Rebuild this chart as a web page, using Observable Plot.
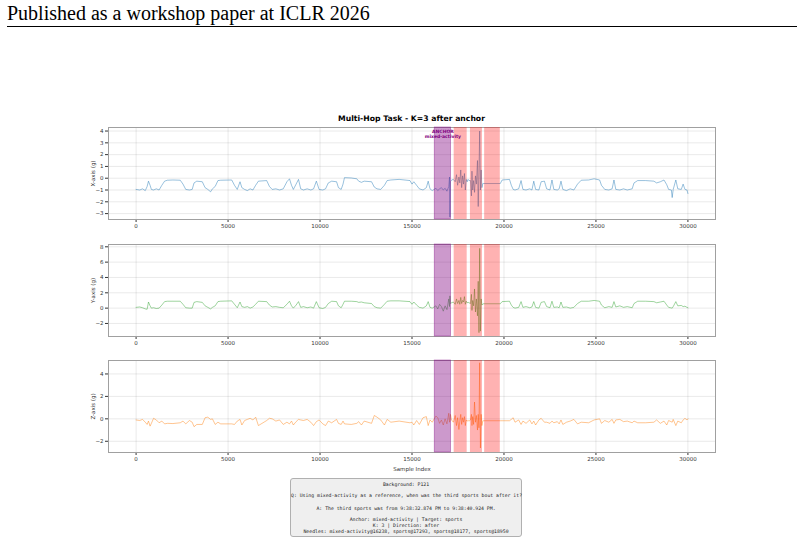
<!DOCTYPE html>
<html><head><meta charset="utf-8">
<script src="https://cdn.jsdelivr.net/npm/d3@7"></script>
<script src="https://cdn.jsdelivr.net/npm/@observablehq/plot@0.6"></script>
<style>
body{margin:0;width:804px;height:544px;position:relative;background:#fff;overflow:hidden}
#hdr{position:absolute;left:7px;top:2px;font-family:"Liberation Serif","Times New Roman",serif;font-size:20px;color:#000;white-space:nowrap}
#rule{position:absolute;left:7px;top:26px;width:790px;height:0;border-top:1px solid #000}
#title{position:absolute;left:108px;width:607px;top:114px;text-align:center;font-family:"DejaVu Sans";font-weight:bold;font-size:7.7px;color:#000;white-space:nowrap}
.panel{position:absolute;left:0}
#box{position:absolute;left:290px;top:478px;width:232px;height:59px;box-sizing:border-box;background:#efefef;border:1px solid #b0b0b0;border-radius:3px;font-family:"DejaVu Sans Mono";font-size:4.8px;text-align:center;color:#222;white-space:nowrap}
#box div{position:absolute;left:0;right:0;line-height:6px}
</style></head><body>
<div id="hdr">Published as a workshop paper at ICLR 2026</div>
<div id="rule"></div>
<div id="title">Multi-Hop Task - K=3 after anchor</div>
<div id="p1" class="panel"></div>
<div id="p2" class="panel"></div>
<div id="p3" class="panel"></div>
<div id="box"></div>
<script>
// ---- data (sample index, acceleration in g) ----
const xSeries = [
[0,-0.95],[200,-1.0],[350,-0.9],[500,-1.05],[600,-0.7],[673,-0.25],[760,-0.6],[832,-0.95],[950,-1.0],[1100,-0.9],
[1250,-1.0],[1400,-0.6],[1550,-0.25],[1700,-0.17],[2000,-0.15],[2400,-0.17],[2550,-0.5],[2700,-0.95],[2900,-1.0],[3050,-0.95],
[3150,-0.4],[3300,-0.25],[3600,-0.3],[3750,-0.8],[3900,-0.95],[4050,-1.15],[4150,-0.9],[4300,-0.7],[4450,-0.2],[4600,-0.17],
[5200,-0.15],[5350,-0.6],[5500,-0.95],[5650,-0.3],[5750,-0.8],[5900,-0.95],[6050,-1.05],[6200,-0.9],[6350,-1.0],[6500,-0.6],
[6650,-0.25],[7100,-0.2],[7250,-0.7],[7400,-0.95],[7600,-0.9],[7800,-1.0],[8000,-0.9],[8200,-0.3],[8340,-0.05],[8450,-0.6],
[8550,-0.95],[8700,-0.5],[8830,-0.1],[8950,-0.9],[9100,-1.0],[9300,-0.9],[9500,-1.0],[9650,-0.9],[9800,-0.25],[9950,-0.95],
[10150,-1.0],[10300,-0.9],[10450,-0.4],[10633,-0.25],[10900,-0.3],[11000,-0.8],[11150,-0.95],[11250,-0.5],[11330,0.05],[11700,0.02],
[12000,-0.05],[12100,-0.25],[12250,-0.35],[12400,-0.25],[12800,-0.3],[12950,-0.75],[13100,-0.9],[13300,-0.95],[13500,-0.6],[13650,-0.2],
[13850,-0.15],[14300,-0.1],[14890,-0.2],[15000,-0.5],[15100,-0.3],[15250,-0.6],[15400,-0.9],[15600,-1.0],[15780,-0.8],[15880,-0.25],
[15979,-0.9],[16100,-1.05],[16300,-0.85],[16400,-1.05],[16500,-0.9],[16600,-0.8],[16700,-1.0],[16800,-0.85],[16900,-1.1],[17000,-0.7],
[17040,0.1],[17060,-3.3],[17090,-0.3],[17150,-0.15],[17250,-0.1],[17350,-0.3],[17420,0.3],[17480,-0.6],[17550,0.1],[17600,-0.4],
[17650,0.7],[17700,-0.8],[17750,0.2],[17800,-0.5],[17850,0.4],[17900,-1.0],[17950,-0.1],[18000,-0.3],[18050,-0.1],[18100,-0.2],
[18180,-0.2],[18230,-1.5],[18260,0.6],[18300,-1.0],[18350,-0.2],[18400,-1.2],[18450,0.2],[18500,-0.5],[18560,1.5],[18600,-2.4],
[18640,0.5],[18680,4.0],[18720,-1.0],[18760,0.7],[18800,-0.8],[18850,-0.45],[18900,-0.45],[19800,-0.45],[19900,-0.15],[20300,-0.1],
[20400,-0.6],[20500,-0.95],[20600,-1.0],[20800,-0.9],[20930,-0.2],[21030,-0.95],[21200,-1.0],[21400,-0.9],[21520,-1.0],[21620,-0.25],
[21720,-0.95],[21900,-1.0],[22020,-0.3],[22200,-0.25],[22320,-0.9],[22500,-1.0],[22610,-0.15],[22710,-0.95],[22900,-1.0],[23000,-0.9],
[23100,-0.25],[23200,-0.95],[23400,-1.05],[23600,-0.9],[23800,-1.0],[24000,-0.5],[24200,-0.17],[24600,-0.15],[24900,-0.05],[25200,-0.15],
[25300,-0.6],[25480,-0.95],[25700,-1.0],[25880,-0.9],[25980,-0.15],[26080,-0.95],[26300,-1.0],[26500,-0.9],[26700,-1.0],[26970,-0.9],
[27070,-0.4],[27270,-0.2],[27700,-0.2],[28150,-0.25],[28300,-0.4],[28500,-0.3],[28700,-0.15],[28850,-0.55],[28950,-0.95],[29100,-1.0],
[29146,-1.64],[29200,-0.95],[29344,-0.15],[29450,-0.9],[29640,-0.95],[29740,-0.5],[29840,-0.95],[29950,-1.0],[30000,-1.3]
];
const ySeries = [
[0,0.1],[200,0.15],[350,0.05],[500,-0.1],[600,-0.15],[673,0.8],[760,0.3],[832,0.0],[950,0.05],[1100,-0.05],
[1250,0.0],[1400,0.4],[1550,0.85],[1700,0.9],[2000,0.9],[2400,0.9],[2550,0.5],[2700,0.05],[2900,0.0],[3050,0.0],
[3150,0.75],[3300,0.85],[3600,0.75],[3750,0.3],[3900,0.1],[4050,-0.1],[4150,0.1],[4300,0.3],[4450,0.85],[4600,0.9],
[5200,0.95],[5350,0.5],[5500,0.05],[5650,0.8],[5750,0.2],[5900,0.1],[6050,0.2],[6200,0.0],[6350,0.15],[6500,0.5],
[6650,0.9],[7100,0.85],[7250,0.4],[7400,0.15],[7600,0.2],[7800,0.1],[8000,0.05],[8200,0.5],[8340,0.9],[8450,0.3],
[8550,0.0],[8700,0.4],[8830,0.85],[8950,0.1],[9100,0.2],[9300,0.05],[9500,0.15],[9650,0.0],[9800,0.85],[9950,0.05],
[10150,-0.05],[10300,0.1],[10450,0.6],[10633,0.9],[10900,0.85],[11000,0.3],[11150,0.05],[11250,0.5],[11330,0.9],[11700,0.9],
[12000,0.85],[12100,0.75],[12250,0.8],[12400,0.7],[12800,0.6],[12950,0.2],[13100,0.05],[13300,0.0],[13500,0.5],[13650,0.9],
[13850,0.95],[14300,0.95],[14890,0.85],[15000,0.5],[15100,0.8],[15250,0.4],[15400,0.1],[15600,0.0],[15780,0.3],[15880,0.85],
[15979,0.1],[16100,0.0],[16300,0.3],[16400,-0.1],[16500,0.5],[16600,0.2],[16700,-0.4],[16800,0.3],[16900,-0.2],[17000,1.2],
[17040,0.2],[17060,1.6],[17090,0.6],[17150,0.7],[17250,0.8],[17350,0.5],[17420,1.2],[17480,0.6],[17550,1.0],[17600,0.5],
[17650,1.4],[17700,0.6],[17750,1.0],[17800,0.8],[17850,1.5],[17900,0.5],[17950,0.9],[18000,0.7],[18050,0.75],[18100,0.7],
[18180,0.6],[18230,1.8],[18260,-0.3],[18300,1.0],[18350,0.3],[18400,2.5],[18450,-0.5],[18500,1.2],[18560,-1.0],[18600,3.5],
[18640,-3.2],[18680,7.8],[18720,-3.0],[18760,1.2],[18800,0.4],[18850,0.55],[18900,0.57],[19800,0.57],[19900,0.85],[20300,0.9],
[20400,0.4],[20500,0.1],[20600,0.0],[20800,0.1],[20930,0.85],[21030,0.1],[21200,0.2],[21400,0.05],[21520,0.15],[21620,0.85],
[21720,0.1],[21900,0.0],[22020,0.75],[22200,0.85],[22320,0.2],[22500,0.05],[22610,0.9],[22710,0.1],[22900,0.15],[23000,0.05],
[23100,0.8],[23200,0.1],[23400,0.15],[23600,0.0],[23800,0.1],[24000,0.6],[24200,0.9],[24600,0.9],[24900,1.0],[25200,0.9],
[25300,0.4],[25480,0.05],[25700,0.2],[25880,0.1],[25980,0.85],[26080,0.15],[26300,0.3],[26500,0.1],[26700,0.2],[26970,0.05],
[27070,0.6],[27270,0.9],[27700,0.9],[28150,0.85],[28300,0.7],[28500,0.8],[28700,0.9],[28850,0.4],[28950,0.1],[29146,0.0],
[29200,0.2],[29344,0.85],[29450,0.3],[29640,0.35],[29740,0.2],[29840,0.25],[29950,0.1],[30000,0.05]
];
const zSeries = [
[0,-0.1],[200,-0.15],[350,-0.05],[500,-0.3],[600,-0.5],[673,-0.2],[760,-0.65],[832,-0.4],[950,0.05],[1100,-0.1],
[1250,-0.35],[1400,-0.2],[1550,-0.45],[1700,-0.4],[2000,-0.42],[2400,-0.35],[2550,-0.2],[2700,-0.45],[2900,-0.15],[3050,-0.3],
[3150,-0.7],[3300,-0.5],[3600,-0.5],[3750,0.1],[3900,0.15],[4050,-0.05],[4150,0.0],[4300,-0.5],[4450,-0.3],[4600,-0.45],
[5200,-0.45],[5350,-0.5],[5500,-0.2],[5650,-0.05],[5750,-0.55],[5900,-0.15],[6050,-0.05],[6200,0.05],[6350,-0.1],[6500,0.15],
[6650,-0.6],[7100,-0.15],[7250,0.05],[7400,0.0],[7600,-0.2],[7800,-0.1],[8000,-0.5],[8200,-0.3],[8340,-0.45],[8450,-0.2],
[8550,-0.55],[8700,-0.25],[8830,-0.05],[8950,-0.1],[9100,-0.15],[9300,-0.05],[9500,-0.3],[9650,-0.6],[9800,-0.25],[9950,-0.1],
[10150,-0.45],[10300,-0.6],[10450,-0.2],[10633,-0.35],[10900,-0.05],[11000,-0.4],[11150,-0.5],[11250,-0.2],[11330,-0.45],[11700,-0.5],
[12000,-0.4],[12100,-0.25],[12250,-0.55],[12400,-0.2],[12800,-0.4],[12950,0.3],[13100,0.15],[13300,-0.1],[13500,-0.55],[13650,-0.05],
[13850,-0.3],[14300,-0.2],[14890,-0.35],[15000,-0.3],[15100,-0.55],[15250,-0.15],[15400,-0.5],[15600,0.1],[15780,0.2],[15880,-0.6],
[15979,-0.1],[16100,-0.3],[16300,0.25],[16400,0.1],[16500,-0.4],[16600,-0.1],[16700,-0.55],[16800,0.0],[16900,-0.45],[17000,0.5],
[17040,-0.3],[17060,-0.2],[17090,0.4],[17150,-0.1],[17250,-0.3],[17350,0.3],[17420,-0.6],[17480,0.1],[17550,-0.95],[17600,-0.2],
[17650,0.4],[17700,-0.5],[17750,0.1],[17800,-0.3],[17850,0.2],[17900,-0.6],[17950,-0.1],[18000,-0.2],[18050,-0.15],[18100,-0.2],
[18180,-0.1],[18230,0.4],[18260,-0.6],[18300,0.2],[18350,-0.5],[18400,1.5],[18450,-0.3],[18500,0.3],[18560,-1.0],[18600,0.4],
[18640,-0.8],[18680,5.0],[18720,-2.6],[18760,0.4],[18800,-0.6],[18850,-0.17],[18900,-0.17],[19800,-0.17],[19900,-0.17],[20300,-0.17],
[20400,-0.05],[20500,0.1],[20600,-0.3],[20800,-0.1],[20930,-0.5],[21030,-0.2],[21200,-0.4],[21400,-0.1],[21520,-0.45],[21620,-0.2],
[21720,-0.55],[21900,-0.1],[22020,0.05],[22200,-0.3],[22320,-0.3],[22500,-0.4],[22610,-0.2],[22710,-0.35],[22900,-0.25],[23000,-0.45],
[23100,-0.1],[23200,-0.5],[23400,-0.3],[23600,-0.2],[23800,-0.05],[24000,-0.45],[24200,-0.3],[24600,-0.35],[24900,-0.1],[25200,0.0],
[25300,-0.4],[25480,-0.15],[25700,-0.3],[25880,-0.05],[25980,-0.4],[26080,-0.1],[26300,-0.05],[26500,-0.25],[26700,-0.2],[26970,-0.35],
[27070,-0.2],[27270,-0.35],[27700,-0.35],[28150,-0.3],[28300,-0.1],[28500,-0.4],[28700,-0.2],[28850,-0.55],[28950,-0.15],[29146,-0.3],
[29200,-0.05],[29344,-0.6],[29450,-0.2],[29640,-0.35],[29740,-0.1],[29840,0.05],[29950,-0.1],[30000,0.0]
];
// highlighted windows
const bandStart = [16238, 17293, 18177, 18950];
const bandEnd   = [17120, 18000, 18830, 19800];
const bandKind  = ["anchor", "sports", "sports", "sports"];
const anchorLabel = ["ANCHOR", "mixed-activity"];
// axis ticks
const xTicks = [0, 5000, 10000, 15000, 20000, 25000, 30000];
const xDomain = [-1500, 31500];
const yTicks1 = [-3, -2, -1, 0, 1, 2, 3, 4];
const yTicks2 = [-2, 0, 2, 4, 6, 8];
const yTicks3 = [-2, 0, 2, 4];
const yDomain1 = [-3.5, 4.3];
const yDomain2 = [-3.7, 8.3];
const yDomain3 = [-3.0, 5.2];
// info box
const infoLines = [
  "Background: P121",
  "Q: Using mixed-activity as a reference, when was the third sports bout after it?",
  "A: The third sports was from 9:38:32.874 PM to 9:38:40.924 PM.",
  "Anchor: mixed-activity | Target: sports",
  "K: 3 | Direction: after",
  "Needles: mixed-activity@16238, sports@17293, sports@18177, sports@18950"
];
const infoTop = [3, 14, 27, 38, 44, 50];

const bands = bandStart.map((s, i) => ({start: s, end: bandEnd[i], kind: bandKind[i]}));

function panel(el, series, color, yDomain, yTicks, yLabel, frameTop, isLast, isFirst) {
  const mt = 6, mb = 24, fh = 92;
  const marks = [
    Plot.frame({stroke: "#a0a0a0", strokeWidth: 1}),
    Plot.line(series, {x: d => d[0], y: d => d[1], stroke: color, strokeWidth: 0.65, strokeOpacity: 0.7}),
    Plot.rect(bands.filter(b => b.kind === "sports"), {x1: "start", x2: "end", y1: yDomain[0], y2: yDomain[1], fill: "red", fillOpacity: 0.3}),
    Plot.rect(bands.filter(b => b.kind === "anchor"), {x1: "start", x2: "end", y1: yDomain[0], y2: yDomain[1], fill: "purple", fillOpacity: 0.4, stroke: "purple", strokeOpacity: 0.45, strokeWidth: 0.8})
  ];
  if (isFirst) {
    const a = bands.find(b => b.kind === "anchor");
    marks.push(Plot.text([a], {x: d => (d.start + d.end) / 2, frameAnchor: "top", text: () => anchorLabel[0], dy: 2.2, fill: "purple", fontWeight: "bold", fontSize: 4.5}));
    marks.push(Plot.text([a], {x: d => (d.start + d.end) / 2, frameAnchor: "top", text: () => anchorLabel[1], dy: 7.4, fill: "purple", fontWeight: "bold", fontSize: 4.5}));
  }
  const svg = Plot.plot({
    width: 804, height: mt + fh + mb,
    marginLeft: 108, marginRight: 89, marginTop: mt, marginBottom: mb,
    style: {fontFamily: "DejaVu Sans", fontSize: "5.5px", color: "#333", background: "transparent", overflow: "visible"},
    x: {domain: xDomain, ticks: xTicks, tickFormat: d3.format("d"), tickSize: 3, tickPadding: 2, grid: true,
        label: isLast ? "Sample Index" : null, labelAnchor: "center", labelOffset: 18, labelArrow: "none"},
    y: {domain: yDomain, ticks: yTicks, tickSize: 3, tickPadding: 2, grid: true,
        label: yLabel, labelAnchor: "center", labelOffset: 17, labelArrow: "none"},
    marks
  });
  const host = document.getElementById(el);
  host.style.top = (frameTop - mt) + "px";
  host.appendChild(svg);
}

panel("p1", xSeries, "#1f77b4", yDomain1, yTicks1, "X-axis (g)", 127, false, true);
panel("p2", ySeries, "#2ca02c", yDomain2, yTicks2, "Y-axis (g)", 244, false, false);
panel("p3", zSeries, "#ff7f0e", yDomain3, yTicks3, "Z-axis (g)", 360, true, false);

const box = document.getElementById("box");
infoLines.forEach((t, i) => {
  const d = document.createElement("div");
  d.textContent = t;
  d.style.top = infoTop[i] + "px";
  box.appendChild(d);
});
</script>
</body></html>
